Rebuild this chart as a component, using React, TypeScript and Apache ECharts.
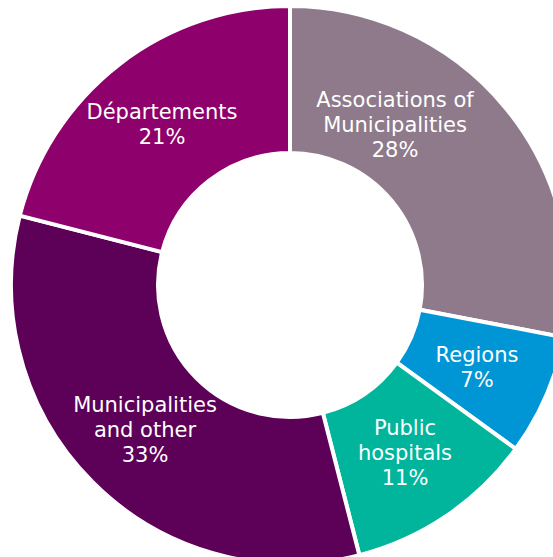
import React, { useEffect, useRef } from "react";
import * as echarts from "echarts";

const categories = [
  "Associations of\nMunicipalities",
  "Regions",
  "Public\nhospitals",
  "Municipalities\nand other",
  "Départements",
];
const shares = [28, 7, 11, 33, 21];
const colors = ["#8e7a8b", "#0096d6", "#00b59b", "#5c0058", "#8e006b"];

// label centre offsets relative to the pie centre (layout only)
const labelOffsets: [number, number][] = [
  [105, -160],
  [187, 82],
  [115, 168],
  [-145, 145],
  [-128, -161],
];

const CX = 290;
const CY = 285;

export default function App() {
  const ref = useRef<HTMLDivElement>(null);
  useEffect(() => {
    document.body.style.margin = "0";
    const chart = echarts.init(ref.current!, undefined, { renderer: "svg" });
    chart.setOption({
      animation: false,
      backgroundColor: "#ffffff",
      series: [
        {
          type: "pie",
          center: [CX, CY],
          radius: [132, 279],
          startAngle: 90,
          clockwise: true,
          avoidLabelOverlap: false,
          itemStyle: { borderColor: "#ffffff", borderWidth: 4 },
          label: {
            show: true,
            position: "inside",
            color: "#ffffff",
            fontFamily: "DejaVu Sans",
            fontSize: 21,
            lineHeight: 25,
            align: "center",
            formatter: (p: any) => `${p.name}\n${p.value}%`,
          },
          labelLine: { show: false },
          labelLayout: (params: any) => {
            const o = labelOffsets[params.dataIndex];
            return {
              x: CX + o[0],
              y: CY + o[1],
              align: "center",
              verticalAlign: "middle",
            };
          },
          emphasis: { disabled: true },
          data: categories.map((name, i) => ({
            name,
            value: shares[i],
            itemStyle: { color: colors[i] },
          })),
        },
      ],
    });
    return () => chart.dispose();
  }, []);
  return <div ref={ref} style={{ width: 553, height: 557 }} />;
}
